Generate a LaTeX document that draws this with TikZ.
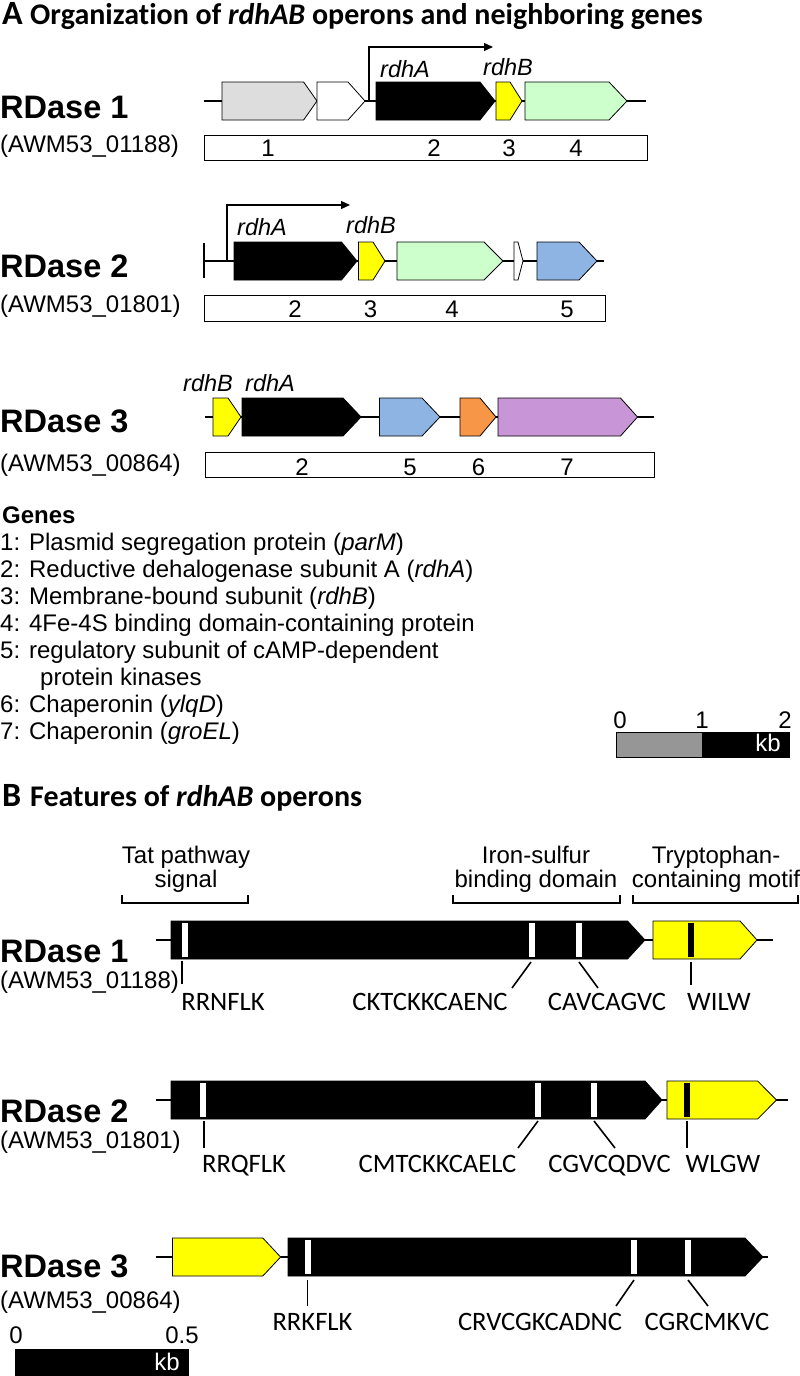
\documentclass[tikz,border=0pt]{standalone}
\usepackage{fontspec}
\setmainfont{Liberation Sans}
\newfontfamily\calfont{Carlito}[Ligatures={NoCommon,NoRare,NoContextual}]
\usetikzlibrary{arrows.meta}
\definecolor{grayA}{HTML}{DDDDDD}
\definecolor{greenA}{HTML}{CCFFCC}
\definecolor{blueA}{HTML}{8DB4E2}
\definecolor{orangeA}{HTML}{F79646}
\definecolor{purpleA}{HTML}{C896D6}
\definecolor{yellowA}{HTML}{FFFF00}
\definecolor{scalegray}{HTML}{969696}
\newcommand\geneArrow[5]{\filldraw[gene,fill=#5] (#1,{#4-19}) -- (#2,{#4-19}) -- (#3,#4) -- (#2,{#4+19}) -- (#1,{#4+19}) -- cycle;}
\newcommand\stripeMark[3]{\fill[#3] ({#1-3},{#2-17}) rectangle ({#1+3},{#2+17});}
\begin{document}
\begin{tikzpicture}[x=1pt,y=-1pt,
  gene/.style={draw=black,line width=0.8pt},
  dna/.style={line width=1.2pt},
  nbox/.style={draw=black,line width=1pt},
  tickln/.style={line width=1.6pt},
  txt/.style={inner sep=0pt,anchor=base,font=\fontsize{24}{28}\selectfont},
  txtl/.style={txt,anchor=base west},
  ital/.style={inner sep=0pt,anchor=base,font=\itshape\fontsize{23.5}{28}\selectfont},
  rd/.style={inner sep=0pt,anchor=base west,font=\bfseries\fontsize{32.5}{36}\selectfont},
  seq/.style={inner sep=0pt,anchor=base,font=\calfont\fontsize{26.6}{30}\selectfont},
  hd/.style={inner sep=0pt,anchor=base west,font=\calfont\bfseries\fontsize{30}{34}\selectfont},
  hdl/.style={inner sep=0pt,anchor=base west,font=\calfont\bfseries\fontsize{34}{38}\selectfont},
]
\useasboundingbox (0,0) rectangle (800,1376);
\fill[white] (0,0) rectangle (800,1376);

% ---------- Panel A ----------
\node[hdl] (tA) at (2,24) {A};
\node[hd] (tA2) at (30,24) {Organization of \textit{rdhAB} operons and neighboring genes};

% Row 1
\draw[dna] (204,101) -- (646,101);
\geneArrow{222}{303.6}{317}{101}{grayA}
\geneArrow{317}{348}{365}{101}{white}
\geneArrow{376}{480}{495}{101}{black}
\geneArrow{496}{510}{522}{101}{yellowA}
\geneArrow{525}{609}{627}{101}{greenA}
\draw[dna,-{Triangle[length=9pt,width=8pt]}] (369,101) -- (369,47) -- (493,47);
\node[ital] (a1) at (405,77) {rdhA};
\node[ital] (b1) at (508,75) {rdhB};
\draw[nbox] (204,135) rectangle (647,160);
\node[txt] (n11) at (268,156.5) {1};
\node[txt] (n12) at (434,156.5) {2};
\node[txt] (n13) at (509,156.5) {3};
\node[txt] (n14) at (576,156.5) {4};
\node[rd] (r1) at (0,118) {RDase 1};
\node[txtl] (w1) at (0,152) {(AWM53\_01188)};

% Row 2
\draw[dna] (204,261) -- (603.6,261);
\draw[dna] (204,243) -- (204,278);
\geneArrow{234}{341.5}{357}{261}{black}
\geneArrow{358.5}{373}{385}{261}{yellowA}
\geneArrow{397}{484}{503}{261}{greenA}
\geneArrow{514}{518}{523}{261}{white}
\geneArrow{537}{579}{597}{261}{blueA}
\draw[dna,-{Triangle[length=9pt,width=8pt]}] (227,261) -- (227,205) -- (350,205);
\node[ital] (a2) at (262,235) {rdhA};
\node[ital] (b2) at (371,233) {rdhB};
\draw[nbox] (204,295) rectangle (605,321);
\node[txt] (n22) at (295,317.5) {2};
\node[txt] (n23) at (370.5,317.5) {3};
\node[txt] (n24) at (452,317.5) {4};
\node[txt] (n25) at (567,317.5) {5};
\node[rd] (r2) at (0,277) {RDase 2};
\node[txtl] (w2) at (0,312) {(AWM53\_01801)};

% Row 3
\draw[dna] (205,417) -- (654,417);
\geneArrow{213}{228}{241}{417}{yellowA}
\geneArrow{242}{343}{361}{417}{black}
\geneArrow{379.5}{422}{440}{417}{blueA}
\geneArrow{460}{480}{496}{417}{orangeA}
\geneArrow{498}{620.5}{637.5}{417}{purpleA}
\node[ital] (b3) at (208,391.5) {rdhB};
\node[ital] (a3) at (270,391.5) {rdhA};
\draw[nbox] (205,452) rectangle (654,477);
\node[txt] (n32) at (302,475) {2};
\node[txt] (n35) at (410,475) {5};
\node[txt] (n36) at (478.5,475) {6};
\node[txt] (n37) at (567,475) {7};
\node[rd] (r3) at (0,432) {RDase 3};
\node[txtl] (w3) at (0,471) {(AWM53\_00864)};

% Legend
\node[txtl,font=\bfseries\fontsize{24}{28}\selectfont] (gh) at (2,523) {Genes};
\node[txtl] (g1) at (0,550) {1: Plasmid segregation protein (\textit{parM})};
\node[txtl] (g2) at (0,577) {2: Reductive dehalogenase subunit A (\textit{rdhA})};
\node[txtl] (g3) at (0,604) {3: Membrane-bound subunit (\textit{rdhB})};
\node[txtl] (g4) at (0,631) {4: 4Fe-4S binding domain-containing protein};
\node[txtl] (g5) at (0,658) {5: regulatory subunit of cAMP-dependent};
\node[txtl] (g5b) at (40,685) {protein kinases};
\node[txtl] (g6) at (0,712) {6: Chaperonin (\textit{ylqD})};
\node[txtl] (g7) at (0,739) {7: Chaperonin (\textit{groEL})};

% Scale A
\fill[black] (702,732) rectangle (789,757);
\fill[scalegray] (616,732) rectangle (702,757);
\draw[line width=0.8pt] (616,732) rectangle (789,757);
\node[txt] (s0) at (620,728) {0};
\node[txt] (s1) at (702,728) {1};
\node[txt] (s2) at (785,728) {2};
\node[txt,text=white] (skb) at (768,751) {kb};

% ---------- Panel B ----------
\node[hdl] (tB) at (2,806) {B};
\node[hd] (tB2) at (30,806) {Features of \textit{rdhAB} operons};

\draw[line width=1.2pt] (122,895) -- (122,903) -- (248,903) -- (248,895);
\draw[line width=1.2pt] (453,895) -- (453,903) -- (620,903) -- (620,895);
\draw[line width=1.2pt] (633,895) -- (633,903) -- (798,903) -- (798,895);
\node[txt] (k1a) at (186,863) {Tat pathway};
\node[txt] (k1b) at (186,887) {signal};
\node[txt] (k2a) at (536,863) {Iron-sulfur};
\node[txt] (k2b) at (536,887) {binding domain};
\node[txt] (k3a) at (716,863) {Tryptophan-};
\node[txt] (k3b) at (716,887) {containing motif};

% B row 1
\draw[dna] (155.6,940) -- (773,940);
\geneArrow{171}{627.5}{645}{940}{black}
\geneArrow{653}{740}{757}{940}{yellowA}
\stripeMark{184.7}{940}{white}
\stripeMark{531.6}{940}{white}
\stripeMark{579}{940}{white}
\stripeMark{691}{940}{black}
\node[rd] (rb1) at (0,962) {RDase 1};
\node[txtl] (wb1) at (0,988) {(AWM53\_01188)};
\draw[tickln] (182,961) -- (182,984);
\draw[tickln] (531,962) -- (512,988);
\draw[tickln] (579,962) -- (598,988);
\draw[tickln] (691,962) -- (691,985);
\node[seq] (q11) at (223,1010) {RRNFLK};
\node[seq] (q12) at (430,1010) {CKTCKKCAENC};
\node[seq] (q13) at (607,1010) {CAVCAGVC};
\node[seq] (q14) at (719,1010) {WILW};

% B row 2
\draw[dna] (155.6,1100) -- (788,1100);
\geneArrow{171}{645}{662}{1100}{black}
\geneArrow{667}{757.6}{776.5}{1100}{yellowA}
\stripeMark{203}{1100}{white}
\stripeMark{538}{1100}{white}
\stripeMark{594}{1100}{white}
\stripeMark{687}{1100}{black}
\node[rd] (rb2) at (0,1122) {RDase 2};
\node[txtl] (wb2) at (0,1148) {(AWM53\_01801)};
\draw[tickln] (204,1121) -- (204,1148);
\draw[tickln] (538,1121) -- (518,1148);
\draw[tickln] (594,1121) -- (615,1148);
\draw[tickln] (687,1121) -- (687,1148);
\node[seq] (q21) at (244,1172) {RRQFLK};
\node[seq] (q22) at (437.5,1172) {CMTCKKCAELC};
\node[seq] (q23) at (609.5,1172) {CGVCQDVC};
\node[seq] (q24) at (723,1172) {WLGW};

% B row 3
\draw[dna] (155.6,1257) -- (768,1257);
\geneArrow{172.4}{262.8}{280.6}{1257}{yellowA}
\geneArrow{288}{745}{763}{1257}{black}
\stripeMark{307.6}{1257}{white}
\stripeMark{634}{1257}{white}
\stripeMark{688}{1257}{white}
\node[rd] (rb3) at (0,1277) {RDase 3};
\node[txtl] (wb3) at (0,1308) {(AWM53\_00864)};
\draw[tickln] (307.6,1280) -- (307.6,1306);
\draw[tickln] (634,1280) -- (616,1306);
\draw[tickln] (688,1280) -- (708,1306);
\node[seq] (q31) at (312.5,1330) {RRKFLK};
\node[seq] (q32) at (540,1330) {CRVCGKCADNC};
\node[seq] (q33) at (707,1330) {CGRCMKVC};

% Scale B
\fill[black] (15,1349) rectangle (189,1376);
\node[txt] (t0) at (16,1343) {0};
\node[txt] (t05) at (182,1343) {0.5};
\node[txt,text=white] (tkb) at (167,1370) {kb};
\end{tikzpicture}
\end{document}
